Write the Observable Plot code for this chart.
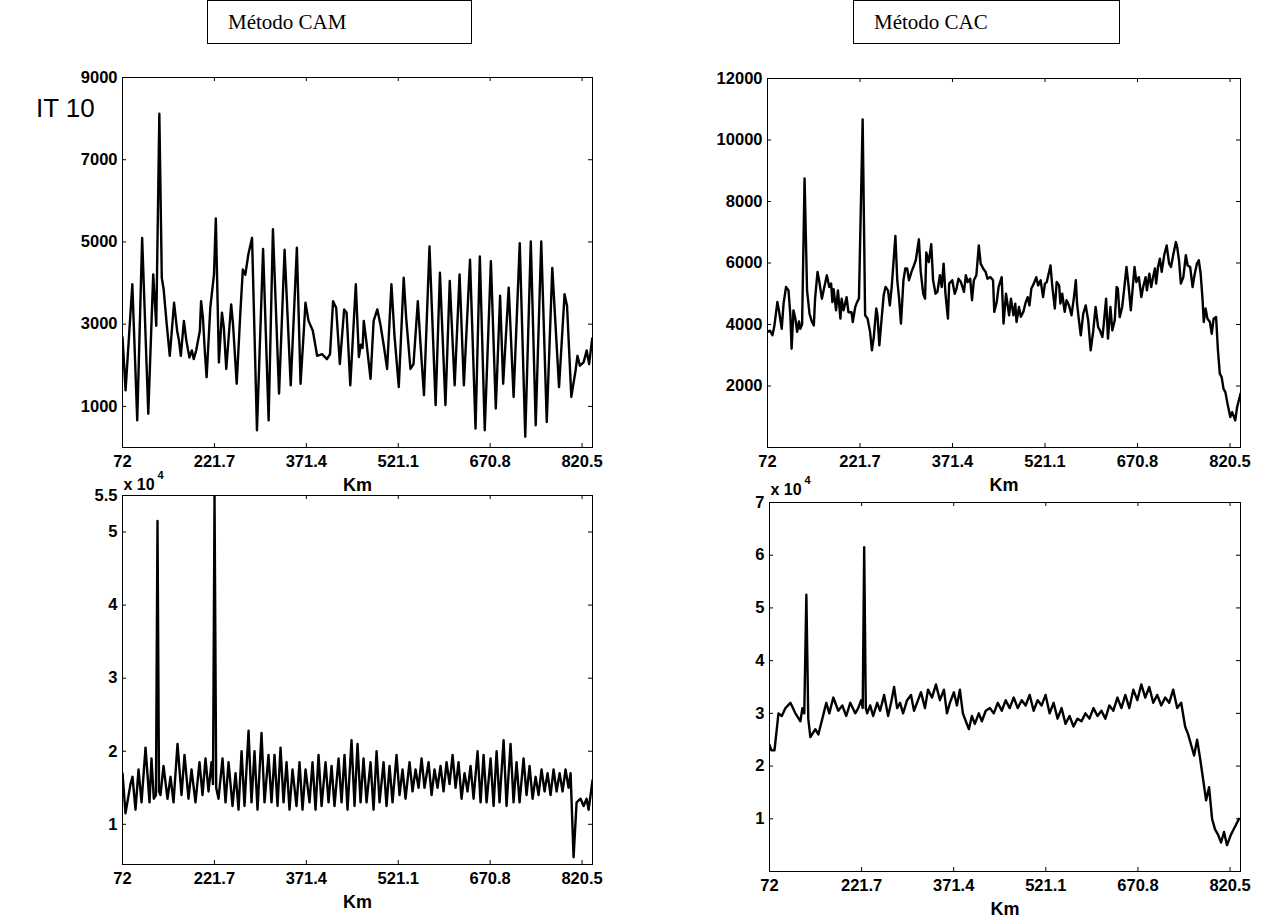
<!DOCTYPE html>
<html><head><meta charset="utf-8">
<script src="https://cdn.jsdelivr.net/npm/d3@7"></script>
<script src="https://cdn.jsdelivr.net/npm/@observablehq/plot@0.6"></script>
<style>
body{margin:0;background:#fff;}
#root{position:relative;width:1262px;height:918px;overflow:hidden;background:#fff;font-family:"Liberation Sans",Arial,sans-serif;}
.panel{position:absolute;}
.panel svg text{font-weight:bold;fill:#000;}
.title{position:absolute;border:1px solid #000;font-family:"Liberation Serif","Times New Roman",serif;font-size:21px;box-sizing:border-box;padding-left:20px;display:flex;align-items:center;background:#fff;}
.it{position:absolute;font-size:26px;line-height:30px;font-family:"Liberation Sans",Arial,sans-serif;}
</style></head><body><div id="root"></div>
<script>
// ---------- data ----------
const titles = ["Método CAM", "Método CAC"];
const rowLabel = "IT 10";
const xTickValues = [72, 221.7, 371.4, 521.1, 670.8, 820.5];
const xDomain = [72, 837.5];
const xLabel = "Km";

// Top-left: Método CAM
const camTopKm  = [72,77,88,96,104,114,122,127,132,136,139,144,149,156,161,164,167,172,176,181,185,188,192,198,200,203,206,209,215,221,224,229,234,237,241,249,252,258,264,268,272,277,283,291,301,310,317,327,336,346,356,362,367,370,375,382,389,397,405,410,415,420,426,433,437,443,452,457,460,463,465,469,476,481,487,492,498,503,510,515,522,530,534,541,546,553,557,563,572,582,589,598,605,613,621,628,638,647,654,662,672,680,687,692,701,709,719,728,737,745,754,763,772,783,792,796,803,810,813,817,823,828,832,837];
const camTopVal = [2680,1390,3970,660,5100,820,4210,2960,8120,4130,3850,3000,2230,3520,2840,2600,2230,3080,2600,2190,2360,2150,2360,2840,3560,3150,2360,1710,3400,4210,5570,2070,3280,2920,1910,3480,3000,1550,3300,4330,4200,4700,5100,420,4830,660,5310,1310,4810,1510,4860,1550,2760,3520,3080,2840,2230,2270,2150,2270,3560,3400,2030,3360,3280,1510,3970,2200,2500,2420,3080,2600,1670,3080,3360,3000,2440,1910,3970,2720,1470,4130,3160,1910,2030,3560,2600,1270,4890,1030,4250,1030,4050,1510,4210,1510,4570,460,4650,420,4530,950,3690,1550,3890,1230,4970,260,5010,540,5010,620,4370,1470,3730,3450,1230,1880,2230,1990,2070,2360,2030,2650];
const camTopYTicks = [1000,3000,5000,7000,9000];

// Top-right: Método CAC
const cacTopKm  = [72,76,80,83,88,91,95,98,102,106,109,111,114,117,120,123,125,128,132,136,140,144,147,149,153,156,160,164,168,172,175,177,179,183,186,190,192,195,197,200,203,208,210,214,217,220,226,230,234,238,241,244,248,250,253,256,260,263,267,270,273,279,282,285,288,292,295,298,301,305,309,312,317,320,324,327,329,333,337,340,344,347,351,354,357,360,364,366,371,375,378,381,385,390,393,396,400,403,406,410,414,417,421,425,428,433,437,439,443,446,451,454,458,463,466,470,473,475,479,482,486,490,493,496,499,503,507,510,514,518,521,524,527,530,533,537,540,544,546,549,553,556,560,564,568,571,573,576,579,583,587,591,595,599,603,607,610,614,616,620,623,627,630,634,637,639,642,646,649,653,656,660,662,666,669,673,677,680,684,686,690,693,696,699,701,704,707,710,714,718,722,725,729,733,735,738,741,745,749,752,756,760,763,767,770,773,776,778,781,784,788,791,794,798,801,804,807,810,813,817,821,824,829,832,837.5];
const cacTopVal = [3760,3800,3650,3940,4730,4400,3860,4680,5220,5110,4300,3210,4460,4200,3760,4100,3860,4000,8750,5110,4350,4080,3970,4840,5710,5380,4840,5220,5600,5220,5330,4730,5150,4460,5110,4190,4840,4460,4620,4890,4400,4400,4080,4570,4730,4840,10670,4300,4190,3760,3160,3590,4520,4300,3320,4030,4950,5220,5110,4620,5220,6880,5440,4840,4030,5440,5820,5820,5440,5710,5920,6090,6770,5710,5000,4840,6340,6030,6610,5440,5000,5060,5600,5220,5980,5000,4190,5330,5440,5000,5170,5490,5380,5060,5600,5380,5490,4790,5440,5600,6570,5980,5820,5710,5490,5540,5440,4410,4730,5220,5540,4030,5000,4300,4840,4300,4680,4080,4570,4250,4410,4730,4890,4620,5170,5330,5540,5270,5440,4890,5330,5380,5650,5920,5220,4520,5380,5270,4680,5000,4410,4790,4620,4300,4890,5440,4680,4140,3650,4350,4620,4140,3160,3760,4570,3920,3810,3590,3970,4840,3540,4570,3810,4140,5220,5170,4240,4570,5110,5870,5330,4460,4950,5870,5380,5540,4890,5220,5540,5110,5650,5220,5540,5820,5330,5870,6140,5710,6250,6570,5980,5870,6300,6680,6520,6090,5330,5540,6250,5920,5870,5220,5600,5980,6090,5650,4840,4080,4520,4190,4080,3700,4190,4240,3160,2400,2290,1910,1800,1370,990,1150,880,1310,1750];
const cacTopYTicks = [2000,4000,6000,8000,10000,12000];

// Bottom-left: Método CAM (x 10^4)
const camBotKm  = [72,76.9,85,88.3,93.2,98.1,103,109.5,116,119.2,123,126.5,129,131.5,133.9,138.8,145.3,150.2,155.1,161.6,168.1,173,179.5,184.4,190.9,197.4,202.3,207.2,212.1,217,219.4,221.9,224.6,228.4,234.9,239.8,244.7,251.2,256.1,261,265.9,270.7,277.3,282.1,287,291.9,298.4,303.3,309.8,314.7,319.6,324.5,329.4,334.3,339.2,344,348.9,355.4,360.3,365.2,370.1,376.6,381.5,386.4,391.3,396.2,402.7,407.6,412.5,417.3,423.9,428.8,433.6,438.5,445,449.9,454.8,459.7,464.6,469.5,476,480.9,485.8,490.7,497.2,502,506.9,511.8,518.3,523.2,528.1,533,539.5,544.4,549.3,554.2,559.1,563.9,570.5,575.4,580.2,585.1,590,594.9,599.8,604.7,609.6,614.5,619.3,624.2,629.1,634,638.9,643.8,650.3,655.2,660.1,665,671.5,676.4,681.3,686.1,692.7,697.5,704,708.9,713.8,718.7,725.2,730.1,735,739.9,744.8,749.7,754.5,759.4,764.3,769.2,774.1,779,783.9,788.8,793.6,798.5,801.8,806.7,811.6,818.1,823,827.9,831.2,837.5];
const camBotVal = [1.70,1.15,1.55,1.65,1.20,1.75,1.30,2.05,1.30,1.90,1.35,1.40,5.15,1.45,1.40,1.80,1.35,1.65,1.30,2.10,1.40,1.95,1.35,1.75,1.30,1.85,1.40,1.90,1.45,1.85,1.55,5.50,1.50,1.35,1.90,1.30,1.85,1.25,1.70,1.20,2.00,1.25,2.28,1.30,2.00,1.20,2.25,1.30,1.95,1.30,1.95,1.25,2.05,1.30,1.85,1.20,1.75,1.25,1.85,1.20,1.75,1.30,1.85,1.20,1.95,1.25,1.85,1.30,1.80,1.25,1.90,1.30,1.95,1.20,2.15,1.25,2.10,1.30,1.90,1.30,1.85,1.20,2.00,1.30,1.85,1.25,1.80,1.30,1.95,1.40,1.75,1.35,1.85,1.45,1.75,1.50,1.90,1.50,1.85,1.40,1.75,1.50,1.80,1.45,1.85,1.55,1.95,1.50,1.85,1.35,1.70,1.45,1.80,1.35,2.00,1.30,1.95,1.30,1.90,1.25,2.00,1.30,2.15,1.25,2.10,1.30,1.85,1.30,1.90,1.40,1.80,1.35,1.65,1.40,1.75,1.45,1.70,1.40,1.75,1.45,1.70,1.45,1.75,1.50,1.70,0.55,1.30,1.35,1.25,1.35,1.20,1.60];
const camBotYTicks = [1,2,3,4,5,5.5];

// Bottom-right: Método CAC (x 10^4)
const cacBotKm  = [72,75,80.1,86.6,92,97.9,106,114.1,122.2,125.5,128.5,131.9,135,138.4,146.5,151.4,157.9,164.3,169.2,175.7,183.8,190.3,196.7,203.2,211.3,216.2,221,223.5,225.9,228.5,230.8,235.6,240.5,247,251.8,258.3,264.8,269.6,274.5,279.4,284.2,289.1,295.6,302,306.9,313.4,318.2,324.7,329.6,336.1,342.5,349,355.5,360.4,365.2,371.7,376.6,381.4,386.3,391.1,396,400.9,405.7,412.2,417.1,423.5,430,436.5,443,449.5,455.9,462.4,468.9,475.4,481.9,488.3,494.8,501.3,507.8,514.3,520.7,527.2,533.7,540.2,546.7,553.1,559.6,566.1,572.6,579.1,585.5,592,598.5,605,611.5,617.9,624.4,630.9,637.4,643.9,650.3,656.8,663.3,669.8,676.3,682.7,689.2,695.7,702.2,708.7,715.1,721.6,728.1,734.6,741.1,747.5,752.4,757.3,762.1,767,771.8,776.7,781.6,786.4,791.3,796.1,801,805.9,810.7,815.6,822,828.5,835];
const cacBotVal = [2.40,2.30,2.30,3.00,2.95,3.10,3.20,3.00,2.85,3.10,3.00,5.25,2.90,2.55,2.70,2.60,2.90,3.20,3.00,3.30,3.05,3.15,2.95,3.20,3.00,3.10,3.25,3.10,6.15,3.10,3.00,3.15,2.95,3.20,3.05,3.35,2.95,3.20,3.50,3.10,3.20,3.00,3.25,3.35,3.05,3.25,3.40,3.10,3.45,3.30,3.55,3.25,3.45,3.00,3.20,3.40,3.15,3.45,3.00,2.85,2.70,2.95,2.80,3.00,2.85,3.05,3.10,3.00,3.20,3.05,3.25,3.10,3.30,3.10,3.25,3.15,3.35,3.05,3.25,3.15,3.35,3.00,3.20,2.90,3.10,2.80,2.95,2.75,2.90,2.85,3.00,2.90,3.10,2.95,3.05,2.90,3.15,3.05,3.30,3.10,3.35,3.10,3.45,3.25,3.55,3.30,3.50,3.20,3.35,3.15,3.30,3.20,3.45,3.10,3.20,2.75,2.60,2.40,2.20,2.50,2.15,1.75,1.35,1.60,1.00,0.80,0.70,0.55,0.75,0.50,0.70,0.85,1.00];
const cacBotYTicks = [1,2,3,4,5,6,7];

// ---------- drawing ----------
const root = document.getElementById("root");
const FONT = "'Liberation Sans', Arial, Helvetica, sans-serif";

function panel({km, val, yDomain, yTicks, frame, expo, expoDy}) {
  const [L, T, R, B] = frame;
  const mL = 80, mR = 12, mT = 40, mB = 60;
  const fw = R - L, fh = B - T;
  const data = km.map((k, i) => ({k, v: val[i]}));
  const tl = 4;
  const marks = [
    Plot.line(data, {x: "k", y: "v", stroke: "#000", strokeWidth: 2.4, clip: true}),
    Plot.frame({stroke: "#000", strokeWidth: 1}),
    Plot.axisX(xTickValues, {tickSize: 0, tickPadding: 8, tickFormat: d => String(d), fontSize: 16.5, fontWeight: "bold", label: null, fill: "#000"}),
    Plot.axisY(yTicks, {tickSize: 0, tickPadding: 5, tickFormat: d => String(d), fontSize: 16.5, fontWeight: "bold", label: null, fill: "#000"}),
    Plot.tickX(xTickValues, {x: d => d, insetTop: fh - tl, stroke: "#000", strokeWidth: 1}),
    Plot.tickX(xTickValues, {x: d => d, insetBottom: fh - tl, stroke: "#000", strokeWidth: 1}),
    Plot.tickY(yTicks, {y: d => d, insetRight: fw - tl, stroke: "#000", strokeWidth: 1}),
    Plot.tickY(yTicks, {y: d => d, insetLeft: fw - tl, stroke: "#000", strokeWidth: 1}),
    Plot.text([xLabel], {text: d => d, frameAnchor: "bottom", lineAnchor: "bottom", dy: 43, fontSize: 18, fontWeight: "bold", fill: "#000"})
  ];
  if (expo) {
    marks.push(Plot.text(["x 10"], {text: d => d, frameAnchor: "top-left", textAnchor: "start", lineAnchor: "bottom", dx: 1, dy: -expoDy, fontSize: 16, fontWeight: "bold", fill: "#000"}));
    marks.push(Plot.text(["4"], {text: d => d, frameAnchor: "top-left", textAnchor: "start", lineAnchor: "bottom", dx: 35, dy: -expoDy - 11, fontSize: 11, fontWeight: "bold", fill: "#000"}));
  }
  const svg = Plot.plot({
    width: fw + mL + mR,
    height: fh + mT + mB,
    marginLeft: mL, marginRight: mR, marginTop: mT, marginBottom: mB,
    x: {domain: xDomain},
    y: {domain: yDomain},
    style: {fontFamily: FONT, fontSize: "16.5px", fontWeight: "bold", color: "#000", background: "transparent", overflow: "visible"},
    marks
  });
  const wrap = document.createElement("div");
  wrap.className = "panel";
  wrap.style.left = (L - mL) + "px";
  wrap.style.top = (T - mT) + "px";
  wrap.appendChild(svg);
  root.appendChild(wrap);
}

panel({km: camTopKm, val: camTopVal, yDomain: [0, 9000], yTicks: camTopYTicks, frame: [122, 77, 592, 447]});
panel({km: cacTopKm, val: cacTopVal, yDomain: [0, 12000], yTicks: cacTopYTicks, frame: [767, 78, 1240, 447]});
panel({km: camBotKm, val: camBotVal, yDomain: [0.45, 5.5], yTicks: camBotYTicks, frame: [122, 495, 592, 864], expo: true, expoDy: 6});
panel({km: cacBotKm, val: cacBotVal, yDomain: [0, 7], yTicks: cacBotYTicks, frame: [769, 502, 1240, 871], expo: true, expoDy: 8});

function titleBox(text, left, width) {
  const d = document.createElement("div");
  d.className = "title";
  d.style.left = left + "px"; d.style.top = "0px";
  d.style.width = width + "px"; d.style.height = "44px";
  d.textContent = text;
  root.appendChild(d);
}
titleBox(titles[0], 207, 265);
titleBox(titles[1], 853, 267);

const it = document.createElement("div");
it.className = "it";
it.style.left = "36px"; it.style.top = "93px";
it.textContent = rowLabel;
root.appendChild(it);
</script></body></html>
